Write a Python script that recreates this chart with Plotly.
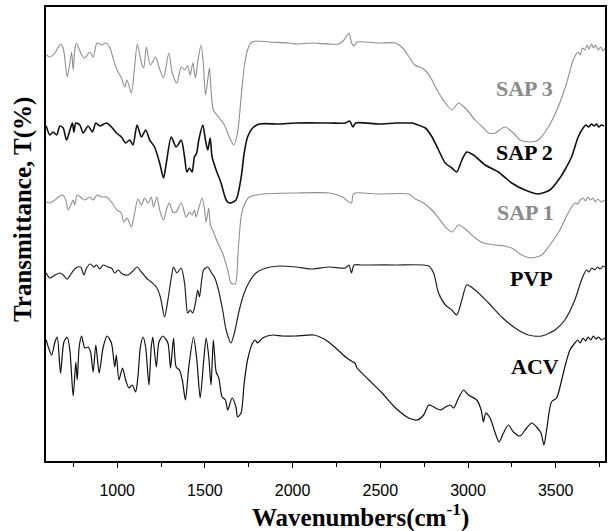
import plotly.graph_objects as go

# FTIR spectra, stacked with vertical offsets (arbitrary transmittance units)

wn_sap3 = [595, 616, 645, 664, 677, 692, 715, 730, 740, 749, 758, 768, 797, 815, 844, 863, 885, 910,
           935, 957, 976, 999, 1024, 1043, 1056, 1081, 1099, 1115, 1138, 1151, 1166, 1189, 1219, 1238,
           1264, 1294, 1314, 1340, 1365, 1384, 1402, 1416, 1431, 1446, 1459, 1478, 1491, 1503, 1516,
           1526, 1535, 1548, 1582, 1611, 1639, 1664, 1686, 1705, 1724, 1743, 1762, 1791, 1866, 1980,
           2018, 2113, 2264, 2293, 2321, 2336, 2350, 2368, 2492, 2587, 2628, 2668, 2696, 2747, 2785,
           2823, 2871, 2908, 2946, 2984, 3041, 3088, 3117, 3155, 3211, 3259, 3297, 3354, 3401, 3458,
           3514, 3562, 3600, 3628, 3640, 3652, 3666, 3678, 3690, 3704, 3716, 3728, 3742, 3756, 3770, 3780]
t_sap3 = [406, 404, 408, 414, 417, 413, 384, 398, 409, 391, 411, 418, 406, 403, 409, 404, 418, 416,
          418, 414, 403, 391, 383, 374, 381, 368, 394, 417, 398, 393, 414, 396, 404, 394,
          383, 408, 388, 378, 394, 391, 395, 386, 398, 383, 399, 416, 398, 366, 381,
          393, 371, 351, 343, 336, 324, 316, 328, 361, 394, 411, 418, 420, 419, 418,
          417, 418, 417, 421, 428, 418, 415, 419, 418, 418, 413, 403, 396, 392, 384,
          371, 358, 351, 358, 353, 341, 333, 328, 328, 334, 328, 321, 319, 321, 334,
          354, 378, 401, 409, 406, 413, 411, 416, 412, 417, 413, 416, 411, 414, 410, 413]

wn_sap2 = [595, 616, 635, 655, 673, 692, 711, 734, 745, 753, 764, 787, 806, 834, 859, 878, 901, 939,
           967, 996, 1024, 1048, 1071, 1090, 1113, 1138, 1162, 1185, 1213, 1242, 1264, 1280, 1308,
           1336, 1365, 1384, 1397, 1412, 1427, 1440, 1453, 1465, 1488, 1503, 1516, 1530, 1541, 1564,
           1592, 1621, 1639, 1677, 1706, 1724, 1743, 1772, 1810, 1923, 2018, 2207, 2302, 2325, 2344,
           2359, 2492, 2587, 2652, 2681, 2700, 2757, 2795, 2832, 2870, 2908, 2936, 2965, 2993, 3031,
           3098, 3173, 3249, 3325, 3401, 3467, 3524, 3552, 3590, 3628, 3656, 3672, 3688, 3704, 3718,
           3732, 3746, 3760, 3775]
t_sap2 = [335, 326, 329, 326, 335, 333, 321, 333, 338, 329, 338, 336, 328, 335, 329, 338, 335, 338,
          334, 328, 324, 318, 321, 316, 336, 324, 331, 321, 314, 298, 283, 298, 324,
          314, 321, 304, 289, 293, 289, 304, 308, 321, 336, 321, 311, 323, 304, 291,
          278, 261, 258, 261, 283, 308, 324, 333, 337, 337, 338, 338, 338, 340, 334,
          338, 337, 338, 338, 338, 337, 333, 324, 311, 298, 293, 289, 301, 309, 306,
          296, 289, 278, 271, 267, 271, 283, 291, 304, 324, 333, 336, 334, 337, 335,
          337, 334, 336, 335]

wn_sap1 = [595, 616, 645, 664, 689, 707, 720, 740, 749, 758, 772, 797, 815, 844, 863, 885, 910, 939,
           967, 999, 1024, 1037, 1056, 1081, 1099, 1118, 1138, 1156, 1175, 1194, 1207, 1226, 1245,
           1264, 1283, 1298, 1317, 1336, 1365, 1393, 1412, 1427, 1440, 1450, 1465, 1484, 1497, 1507,
           1522, 1531, 1544, 1573, 1601, 1630, 1649, 1673, 1690, 1706, 1724, 1753, 1829, 2018, 2207,
           2283, 2321, 2336, 2344, 2359, 2492, 2662, 2700, 2747, 2794, 2832, 2871, 2908, 2946, 2984,
           3041, 3088, 3155, 3211, 3259, 3306, 3363, 3420, 3467, 3524, 3571, 3609, 3625, 3640, 3656,
           3670, 3684, 3698, 3712, 3726, 3740, 3760, 3778]
t_sap1 = [259, 258, 261, 264, 266, 261, 251, 258, 261, 256, 266, 263, 261, 264, 261, 266, 264, 264,
          259, 251, 248, 239, 243, 234, 248, 262, 256, 263, 258, 264, 254, 264, 249,
          241, 253, 258, 249, 249, 258, 244, 249, 246, 251, 244, 253, 263, 253, 239,
          253, 236, 231, 218, 208, 191, 178, 177, 211, 244, 256, 264, 267, 268, 268,
          264, 259, 258, 266, 268, 267, 267, 262, 258, 251, 243, 234, 229, 236, 232,
          223, 218, 216, 215, 212, 206, 203, 206, 216, 231, 248, 258, 257, 261, 263,
          260, 264, 261, 263, 259, 262, 259, 261]

wn_pvp = [595, 616, 645, 673, 692, 715, 740, 764, 791, 810, 825, 848, 867, 882, 901, 919, 948, 967,
          986, 1005, 1030, 1061, 1090, 1113, 1138, 1166, 1194, 1223, 1246, 1270, 1289, 1308, 1321,
          1340, 1365, 1384, 1402, 1416, 1431, 1446, 1459, 1469, 1492, 1516, 1535, 1554, 1573, 1601,
          1621, 1649, 1668, 1696, 1724, 1753, 1791, 1848, 1923, 2018, 2113, 2207, 2302, 2321, 2336,
          2350, 2397, 2587, 2776, 2804, 2832, 2871, 2908, 2936, 2965, 2993, 3041, 3117, 3192, 3268,
          3344, 3420, 3496, 3552, 3609, 3647, 3675, 3690, 3706, 3723, 3738, 3754, 3770, 3780]
t_pvp = [188, 183, 186, 188, 186, 182, 188, 193, 194, 186, 193, 197, 194, 196, 192, 196, 194, 193,
         188, 191, 187, 186, 190, 194, 189, 183, 179, 174, 164, 144, 161, 183, 194,
         188, 193, 178, 148, 151, 148, 158, 171, 164, 191, 194, 189, 184, 174, 151,
         131, 118, 128, 151, 168, 179, 188, 193, 195, 194, 192, 194, 193, 196, 188,
         196, 196, 196, 195, 188, 168, 156, 151, 146, 161, 176, 171, 158, 144, 133,
         126, 125, 131, 141, 161, 181, 191, 189, 193, 191, 194, 192, 195, 194]

wn_acv = [595, 607, 626, 645, 658, 677, 696, 715, 730, 749, 764, 772, 783, 797, 815, 834, 848, 863,
          878, 897, 919, 942, 967, 986, 995, 1010, 1030, 1048, 1067, 1086, 1105, 1118, 1132, 1147,
          1162, 1181, 1194, 1203, 1223, 1238, 1260, 1289, 1304, 1321, 1336, 1355, 1371, 1389, 1408,
          1435, 1454, 1473, 1492, 1507, 1522, 1535, 1548, 1564, 1579, 1598, 1617, 1630, 1655, 1677,
          1686, 1706, 1724, 1743, 1772, 1787, 1800, 1829, 1885, 1942, 2018, 2122, 2189, 2246, 2302,
          2344, 2355, 2368, 2435, 2510, 2587, 2662, 2709, 2747, 2776, 2795, 2814, 2842, 2871, 2899,
          2918, 2946, 2975, 3003, 3050, 3075, 3088, 3101, 3126, 3155, 3177, 3202, 3230, 3259, 3297,
          3334, 3363, 3391, 3416, 3433, 3448, 3476, 3505, 3530, 3552, 3581, 3609, 3625, 3640, 3655,
          3670, 3685, 3700, 3715, 3730, 3745, 3760, 3780]
t_acv = [121, 114, 106, 119, 124, 88, 119, 124, 111, 65, 99, 81, 114, 125, 113, 114, 109, 89,
         116, 88, 113, 125, 118, 94, 106, 81, 93, 81, 73, 76, 69, 84, 114, 124,
         114, 76, 114, 124, 94, 119, 125, 118, 93, 123, 94, 91, 81, 61, 94,
         124, 101, 63, 98, 123, 104, 76, 121, 89, 83, 64, 61, 51, 63, 54,
         44, 48, 78, 101, 118, 121, 118, 123, 126, 125, 125, 126, 121, 113, 104,
         99, 98, 93, 81, 68, 53, 43, 41, 46, 56, 55, 53, 51, 54, 56,
         53, 63, 71, 66, 61, 51, 39, 48, 43, 28, 19, 28, 36, 29, 25,
         33, 38, 34, 28, 16, 31, 59, 63, 78, 94, 111, 118, 121, 118, 123,
         120, 124, 121, 125, 122, 124, 121, 123]

series = [
    ("SAP 3", wn_sap3, t_sap3, "#8f8f8f", 1.1),
    ("SAP 2", wn_sap2, t_sap2, "#111111", 1.6),
    ("SAP 1", wn_sap1, t_sap1, "#8f8f8f", 1.1),
    ("PVP", wn_pvp, t_pvp, "#222222", 1.2),
    ("ACV", wn_acv, t_acv, "#111111", 1.2),
]

fig = go.Figure()
for name, x, y, color, w in series:
    fig.add_trace(go.Scatter(x=x, y=y, mode="lines", name=name,
                             line=dict(color=color, width=w, shape="spline", smoothing=0.7),
                             showlegend=False))

# curve labels
labels = [
    ("SAP 3", 3497, 373, "#8a8a8a"),
    ("SAP 2", 3497, 309, "#000000"),
    ("SAP 1", 3503, 249, "#8a8a8a"),
    ("PVP", 3497, 183, "#000000"),
    ("ACV", 3532, 95, "#000000"),
]
for text, x, y, color in labels:
    fig.add_annotation(x=x, y=y, text=f"<b>{text}</b>", showarrow=False,
                       xanchor="right", yanchor="middle",
                       font=dict(family="Liberation Serif", size=22, color=color))

# axis titles
fig.add_annotation(xref="paper", yref="paper", x=0.563, y=-0.121,
                   text="<b>Wavenumbers(cm<sup>-1</sup>)</b>", showarrow=False,
                   xanchor="center", yanchor="middle",
                   font=dict(family="Liberation Serif", size=25, color="black"))
fig.add_annotation(xref="paper", yref="paper", x=-0.041, y=0.553,
                   text="<b>Transmittance, T(%)</b>", showarrow=False, textangle=-90,
                   xanchor="center", yanchor="middle",
                   font=dict(family="Liberation Serif", size=25, color="black"))

fig.update_layout(
    width=608, height=531,
    margin=dict(l=46, r=1, t=7, b=70),
    paper_bgcolor="white", plot_bgcolor="white",
    font=dict(family="Liberation Sans", color="black"),
)
fig.update_xaxes(
    range=[594, 3781], tickvals=[1000, 1500, 2000, 2500, 3000, 3500],
    ticks="outside", ticklen=5, tickwidth=1.2, tickcolor="black",
    ticklabelstandoff=9,
    minor=dict(tickvals=[750, 1250, 1750, 2250, 2750, 3250, 3750], ticks="outside",
               ticklen=4, tickcolor="black"),
    showline=True, linecolor="black", linewidth=2, mirror=True,
    showgrid=False, zeroline=False,
    tickfont=dict(family="Liberation Sans", size=16, color="black"),
)
fig.update_yaxes(
    range=[0, 454], showticklabels=False, ticks="",
    showline=True, linecolor="black", linewidth=2, mirror=True,
    showgrid=False, zeroline=False,
)

fig.write_html("out.html")
